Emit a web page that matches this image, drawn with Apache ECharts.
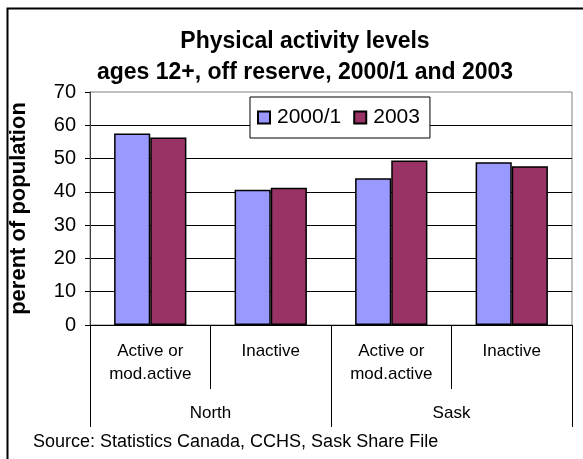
<!DOCTYPE html>
<html>
<head>
<meta charset="utf-8">
<script src="https://cdn.jsdelivr.net/npm/echarts@6/dist/echarts.min.js"></script>
<style>
  html, body { margin: 0; padding: 0; background: #fff; }
  #main { width: 583px; height: 459px; }
</style>
</head>
<body>
<div id="main"></div>
<script>
  // data
  var categories = ['Active or\nmod.active', 'Inactive', 'Active or\nmod.active', 'Inactive'];
  var regions = ['North', 'Sask'];
  var seriesNames = ['2000/1', '2003'];
  var values2000 = [57.5, 40.6, 44.1, 48.9];
  var values2003 = [56.3, 41.2, 49.4, 47.7];

  var font = 'Arial, "Liberation Sans", sans-serif';
  var myChart = echarts.init(document.getElementById('main'));

  var option = {
    backgroundColor: '#fff',
    animation: false,
    title: {
      text: 'Physical activity levels\nages 12+, off reserve, 2000/1 and 2003',
      left: 300,
      top: 21,
      textAlign: 'center',
      textStyle: { fontFamily: font, fontSize: 23, fontWeight: 'bold', color: '#000', lineHeight: 31 }
    },
    legend: {
      data: seriesNames,
      icon: 'rect',
      left: 250,
      top: 97,
      orient: 'horizontal',
      padding: [10, 10, 10, 7],
      itemGap: 12,
      itemWidth: 12,
      itemHeight: 12,
      borderColor: '#000',
      borderWidth: 1,
      backgroundColor: '#fff',
      textStyle: { fontFamily: font, fontSize: 21, color: '#000', padding: [0, 0, 0, 2] }
    },
    grid: {
      left: 90, right: 11, top: 92, bottom: 134,
      show: true, borderColor: '#808080', borderWidth: 1
    },
    xAxis: [
      {
        type: 'category',
        data: categories,
        axisLine: { lineStyle: { color: '#000' } },
        axisTick: { show: true, length: 64, lineStyle: { color: '#000' } },
        axisLabel: { fontFamily: font, fontSize: 17, color: '#000', margin: 15, lineHeight: 23 }
      },
      {
        type: 'category',
        data: regions,
        position: 'bottom',
        axisLine: { show: false },
        axisTick: { show: true, length: 102, lineStyle: { color: '#000' } },
        axisLabel: { fontFamily: font, fontSize: 17, color: '#000', margin: 80 }
      }
    ],
    yAxis: {
      type: 'value',
      min: 0,
      max: 70,
      interval: 10,
      name: 'perent of population',
      nameLocation: 'middle',
      nameGap: 60,
      nameTextStyle: { fontFamily: font, fontSize: 22, fontWeight: 'bold', color: '#000' },
      axisLine: { show: true, lineStyle: { color: '#404040' } },
      axisTick: { show: true, length: 5, lineStyle: { color: '#000' } },
      axisLabel: { fontFamily: font, fontSize: 20, color: '#000', margin: 14 },
      splitLine: { show: true, showMaxLine: false, lineStyle: { color: '#000', width: 1 } }
    },
    series: [
      {
        name: seriesNames[0],
        type: 'bar',
        data: values2000,
        barGap: '0%',
        barCategoryGap: '40%',
        itemStyle: { color: '#9999ff', borderColor: '#000', borderWidth: 1.5 }
      },
      {
        name: seriesNames[1],
        type: 'bar',
        data: values2003,
        itemStyle: { color: '#993366', borderColor: '#000', borderWidth: 1.5 }
      }
    ],
    graphic: [
      {
        type: 'rect',
        shape: { x: 7.5, y: 8.5, width: 620, height: 520 },
        style: { fill: 'none', stroke: '#000', lineWidth: 2 },
        silent: true
      },
      {
        type: 'text',
        left: 33,
        top: 433,
        style: { text: 'Source: Statistics Canada, CCHS, Sask Share File', font: '18px ' + font, fill: '#000' }
      }
    ]
  };

  myChart.setOption(option);
</script>
</body>
</html>
